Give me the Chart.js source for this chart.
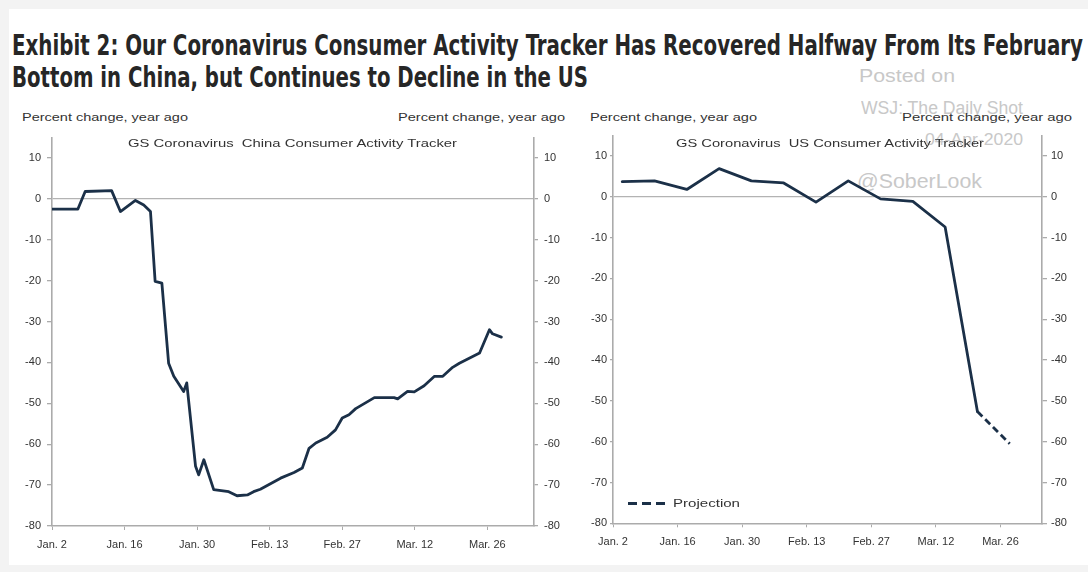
<!DOCTYPE html>
<html><head><meta charset="utf-8">
<script src="https://cdn.jsdelivr.net/npm/chart.js@4.4.1/dist/chart.umd.min.js"></script>
<style>
html,body{margin:0;padding:0;background:#f3f3f3;}
#page{position:relative;width:1088px;height:572px;overflow:hidden;background:#f3f3f3;}
#inner{position:absolute;left:9px;top:9px;width:1079px;height:556px;background:#fff;}
.t{position:absolute;white-space:pre;transform-origin:0 0;}
.title{font-family:"Liberation Sans Narrow","DejaVu Sans Condensed","Liberation Sans",sans-serif;font-weight:bold;font-size:29px;color:#262626;line-height:32px;}
.small{font-family:"Liberation Sans",Arial,sans-serif;font-size:11px;color:#333;line-height:14px;}
.wm{font-family:"Liberation Sans",Arial,sans-serif;color:#c8c8c8;line-height:22px;}
canvas{position:absolute;}
#cChina{left:0;top:130px;z-index:2;}
#cUS{left:575px;top:130px;z-index:2;}
.dash{position:absolute;height:3px;background:#1b3048;z-index:3;}
</style>
</head><body>
<div id="page">
<div id="inner"></div>
<canvas id="cChina" width="570" height="440"></canvas>
<canvas id="cUS" width="510" height="440"></canvas>
<div class="dash" style="left:628px;top:502px;width:9px"></div>
<div class="dash" style="left:642px;top:502px;width:9px"></div>
<div class="dash" style="left:656px;top:502px;width:9px"></div>
</div>
<script>
// ---- data ----
const xTickDays = [0, 14, 28, 42, 56, 70, 84];           // days since Jan. 2
const xTickLabels = ["Jan. 2", "Jan. 16", "Jan. 30", "Feb. 13", "Feb. 27", "Mar. 12", "Mar. 26"];
const yTickValues = [10, 0, -10, -20, -30, -40, -50, -60, -70, -80];

const chinaDays = [0, 5, 6.4, 11.5, 13.2, 16.1, 17.7, 19, 19.9, 21.2, 22.5, 23.5, 25.4, 26, 27.7, 28.3, 29.3, 31.2, 34.1, 35.7, 37.7, 38.9, 40.2, 44.1, 46.7, 48.3, 49.6, 50.9, 53.1, 54.7, 56, 57.3, 58.6, 62.2, 66, 66.7, 68.6, 69.9, 71.8, 73.8, 75.4, 77.3, 78.6, 82.5, 84.4, 85, 86.7];
const chinaValues = [-2.5, -2.5, 1.8, 2, -3.1, -0.4, -1.5, -3.1, -20.2, -20.6, -40.2, -43.4, -47.1, -45, -65.4, -67.5, -63.8, -71.1, -71.6, -72.6, -72.4, -71.6, -71, -68.3, -66.9, -65.8, -61, -59.7, -58.3, -56.5, -53.6, -52.8, -51.3, -48.6, -48.6, -48.9, -47.1, -47.2, -45.7, -43.4, -43.4, -41.2, -40.2, -37.7, -32, -33, -33.8];

const usDays = [2, 9, 16, 23, 30, 37, 44, 51, 58, 65, 72, 79];
const usValues = [3.7, 3.9, 1.8, 6.9, 3.9, 3.4, -1.3, 3.9, -0.5, -1.1, -7.4, -52.6];
const usProjDays = [79, 86];
const usProjValues = [-52.6, -60.5];

// ---- texts ----
const page = document.getElementById('page');
function place(text, cls, x, yc, w, extraStyle) {
  const d = document.createElement('div');
  d.className = 't ' + cls;
  d.textContent = text;
  if (extraStyle) d.setAttribute('style', extraStyle);
  page.appendChild(d);
  const r = d.getBoundingClientRect();
  const sx = w / r.width;
  d.style.left = x + 'px';
  d.style.top = (yc - r.height / 2) + 'px';
  d.style.transform = 'scaleX(' + sx + ')';
  return d;
}
const wmZ = 'z-index:1;';
place("Posted on", "wm", 859, 76, 96, wmZ + "font-size:18px");
place("WSJ: The Daily Shot", "wm", 861, 108, 162, wmZ + "font-size:18px");
place("04-Apr-2020", "wm", 925, 140, 98, wmZ + "font-size:17px");
place("@SoberLook", "wm", 857, 181, 125, wmZ + "font-size:21px");

place("Exhibit 2: Our Coronavirus Consumer Activity Tracker Has Recovered Halfway From Its February", "title", 12, 45, 1071, "z-index:3");
place("Bottom in China, but Continues to Decline in the US", "title", 12, 77, 576, "z-index:3");

place("Percent change, year ago", "small", 22, 117, 166, "z-index:3");
place("Percent change, year ago", "small", 398, 117, 167, "z-index:3");
place("Percent change, year ago", "small", 590, 117, 167, "z-index:3");
place("Percent change, year ago", "small", 902, 117, 170, "z-index:3");
place("GS Coronavirus  China Consumer Activity Tracker", "small", 128, 143, 329, "z-index:3");
place("GS Coronavirus  US Consumer Activity Tracker", "small", 676, 143, 308, "z-index:3");
place("Projection", "small", 673, 503, 67, "z-index:3");

// ---- charts ----
const FONT = {family: '"Liberation Sans", Arial, sans-serif', size: 11};
const AXIS = '#ababab';
const LINE = '#1b3048';

function pts(xs, ys) { return xs.map((x, i) => ({x: x, y: ys[i]})); }

function yAxis(pos, width, tickLen, pad) {
  return {
    type: 'linear', position: pos, min: -80, max: 15,
    afterBuildTicks: s => { s.ticks = yTickValues.map(v => ({value: v})); },
    afterFit: s => { s.width = width; s.paddingTop = 0; s.paddingBottom = 0; },
    ticks: {font: FONT, color: '#333', padding: pad, callback: v => String(v)},
    grid: {
      drawOnChartArea: pos === 'left',
      color: c => (c.tick && c.tick.value === 0) ? '#b3b3b3' : 'rgba(0,0,0,0)',
      lineWidth: 1.3, tickColor: AXIS, tickLength: tickLen
    },
    border: {color: AXIS, width: 1.6}
  };
}

function xAxis(height) {
  return {
    type: 'linear', min: 0, max: 93,
    afterBuildTicks: s => { s.ticks = xTickDays.map(v => ({value: v})); },
    afterFit: s => { s.height = height; },
    ticks: {font: FONT, color: '#333', padding: 8, maxRotation: 0, autoSkip: false,
            callback: v => xTickLabels[xTickDays.indexOf(v)]},
    grid: {drawOnChartArea: false, tickColor: AXIS, tickLength: 4},
    border: {color: AXIS, width: 1.6}
  };
}

function makeChart(id, datasets, g) {
  return new Chart(document.getElementById(id), {
    type: 'line',
    data: {datasets: datasets},
    options: {
      responsive: false, animation: false, devicePixelRatio: 1,
      layout: {padding: {top: g.top, left: 0, right: 0, bottom: 0}},
      plugins: {legend: {display: false}, tooltip: {enabled: false}},
      elements: {point: {radius: 0}, line: {tension: 0, borderJoinStyle: 'round', borderCapStyle: 'round'}},
      scales: {
        x: xAxis(g.xh),
        y: yAxis('left', g.lw, g.ltl, g.lpad),
        y2: yAxis('right', g.rw, g.rtl, g.rpad)
      }
    }
  });
}

makeChart('cChina', [
  {data: pts(chinaDays, chinaValues), borderColor: LINE, borderWidth: 2.8, yAxisID: 'y', fill: false}
], {top: 7.5, xh: 44, lw: 52, rw: 36, ltl: 5, lpad: 6, rtl: 4, rpad: 6});

makeChart('cUS', [
  {data: pts(usDays, usValues), borderColor: LINE, borderWidth: 2.8, yAxisID: 'y', fill: false},
  {data: pts(usProjDays, usProjValues), borderColor: LINE, borderWidth: 2.8, borderDash: [7, 4], borderCapStyle: 'butt', yAxisID: 'y', fill: false}
], {top: 5.6, xh: 46.7, lw: 38, rw: 43, ltl: 3, lpad: 3, rtl: 5, rpad: 4});
</script>
</body></html>
